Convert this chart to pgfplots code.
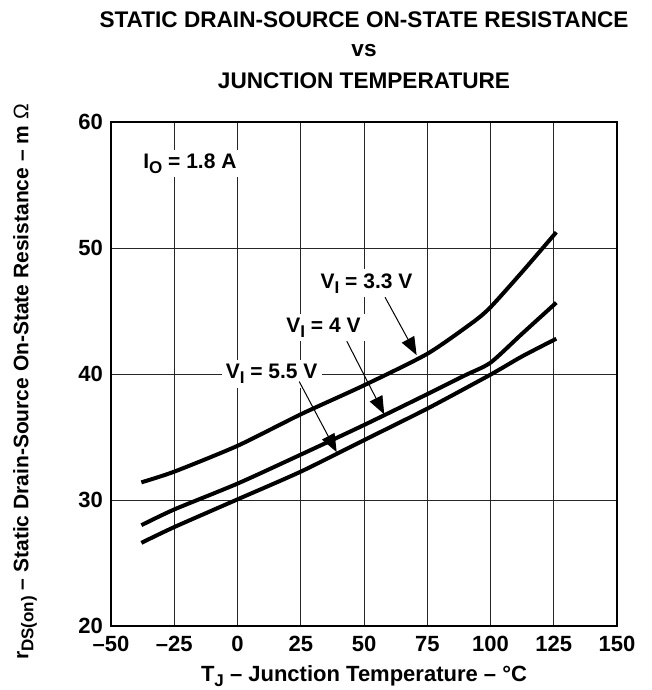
\documentclass[border=0pt]{standalone}
\usepackage{fontspec}
\setmainfont{Liberation Sans}
\usepackage{pgfplots}
\pgfplotsset{compat=1.18}
\usetikzlibrary{arrows.meta}
\newcommand\sub[1]{\raisebox{-0.45ex}{\fontsize{8.5}{10}\selectfont #1}}
\begin{document}
\begin{tikzpicture}
\begin{axis}[
  at={(0,0)}, anchor=south west,
  scale only axis, width=253pt, height=252pt,
  xmin=-50, xmax=150, ymin=20, ymax=60,
  xtick={-50,-25,0,25,50,75,100,125,150},
  xticklabels={--50,--25,0,25,50,75,100,125,150},
  ytick={20,30,40,50,60},
  /pgf/number format/assume math mode=true,
  grid=major,
  major grid style={line width=0.5pt, black!85},
  axis line style={line width=1.1pt},
  tick style={draw=none},
  ticklabel style={font=\bfseries\fontsize{11}{13}\selectfont},
  xticklabel style={yshift=-1.5pt},
  yticklabel style={xshift=-0.5pt},
  clip=false,
]
\addplot[line width=2pt, smooth, tension=0.4] coordinates {
  (-38,31.4) (-25,32.25) (0,34.3) (25,36.8) (50,39.1) (75,41.6) (93,44.1) (100,45.3) (112.5,48.1) (126,51.25)
};
\addplot[line width=2pt, smooth, tension=0.4] coordinates {
  (-38,28.0) (-25,29.25) (0,31.3) (25,33.6) (50,35.95) (75,38.4) (90,39.9) (100,40.9) (112.5,43.2) (126,45.66)
};
\addplot[line width=2pt, smooth, tension=0.4] coordinates {
  (-38,26.6) (-25,27.85) (0,30.05) (25,32.25) (50,34.75) (75,37.25) (100,39.95) (112.5,41.4) (126,42.8)
};
\node[fill=white, inner sep=2pt, font=\bfseries\fontsize{10.5}{12}\selectfont] at (axis cs:-18.8,56.7) {I\sub{O} = 1.8 A};
\node[fill=white, inner sep=2pt, font=\bfseries\fontsize{10.5}{12}\selectfont] at (axis cs:51,47.2) {V\sub{I} = 3.3 V};
\node[fill=white, inner sep=2pt, font=\bfseries\fontsize{10.5}{12}\selectfont] at (axis cs:34,43.7) {V\sub{I} = 4 V};
\node[fill=white, inner sep=2pt, font=\bfseries\fontsize{10.5}{12}\selectfont] at (axis cs:13.5,40.0) {V\sub{I} = 5.5 V};
\draw[line width=0.5pt, -{Triangle[length=9pt,width=7pt]}] (axis cs:58.3,46.1) -- (axis cs:70.8,41.5);
\draw[line width=0.5pt, -{Triangle[length=9pt,width=7pt]}] (axis cs:43.2,42.6) -- (axis cs:58,36.8);
\draw[line width=0.5pt, -{Triangle[length=9pt,width=7pt]}] (axis cs:24.4,39.4) -- (axis cs:39.2,33.8);
\end{axis}
\node[font=\bfseries\fontsize{11.3}{13}\selectfont] at (126.5pt,303pt) {STATIC DRAIN-SOURCE ON-STATE RESISTANCE};
\node[font=\bfseries\fontsize{11.3}{13}\selectfont] at (126.5pt,287.8pt) {vs};
\node[font=\bfseries\fontsize{11.3}{13}\selectfont] at (126.5pt,272.5pt) {JUNCTION TEMPERATURE};
\node[font=\bfseries\fontsize{11}{13}\selectfont] at (126.5pt,-25pt) {T\sub{J} -- Junction Temperature -- °C};
\node[font=\bfseries\fontsize{10.5}{12}\selectfont, rotate=90] at (-43pt,122pt) {r\sub{DS(on)} -- Static Drain-Source On-State Resistance -- m {\mdseries Ω}};
\pgfresetboundingbox
\path[use as bounding box] (-55.5pt,-32pt) rectangle (270.5pt,313pt);
\end{tikzpicture}
\end{document}
